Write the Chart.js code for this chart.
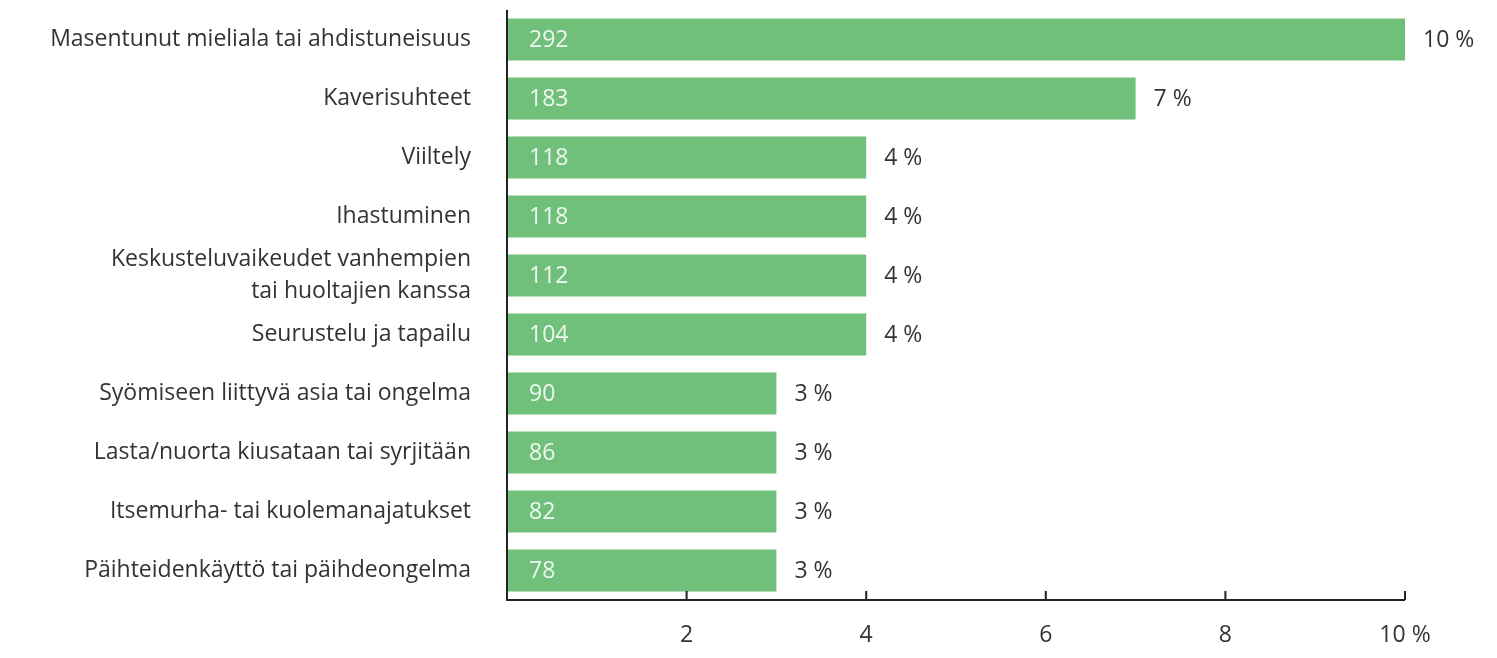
<!DOCTYPE html>
<html>
<head>
<meta charset="utf-8">
<script src="https://cdn.jsdelivr.net/npm/chart.js@4"></script>
<style>
  html, body { margin: 0; padding: 0; background: #fff; }
  #wrap { width: 1497px; height: 658px; position: relative; }
</style>
</head>
<body>
<div id="wrap"><canvas id="myChart"></canvas></div>
<script>
// DATA
const categories = [
  'Masentunut mieliala tai ahdistuneisuus',
  'Kaverisuhteet',
  'Viiltely',
  'Ihastuminen',
  ['Keskusteluvaikeudet vanhempien', 'tai huoltajien kanssa'],
  'Seurustelu ja tapailu',
  'Syömiseen liittyvä asia tai ongelma',
  'Lasta/nuorta kiusataan tai syrjitään',
  'Itsemurha- tai kuolemanajatukset',
  'Päihteidenkäyttö tai päihdeongelma'
];
const counts = [292, 183, 118, 118, 112, 104, 90, 86, 82, 78];
const percents = [10, 7, 4, 4, 4, 4, 3, 3, 3, 3];
const xTicks = [2, 4, 6, 8, 10];

const FONT = 'Open Sans';
const FONT_SIZE = 23;
const barColor = '#70bf7a';
const textColor = '#333333';

// axis lines, inward tick marks and the value labels
const axisAndLabels = {
  id: 'axisAndLabels',
  afterDatasetsDraw(chart) {
    const ctx = chart.ctx;
    const x = chart.scales.x;
    const area = chart.chartArea;
    ctx.save();
    ctx.strokeStyle = '#222';
    ctx.lineWidth = 2;
    ctx.beginPath();
    ctx.moveTo(area.left, area.top);
    ctx.lineTo(area.left, area.bottom);
    ctx.lineTo(area.right, area.bottom);
    xTicks.forEach(v => {
      const px = x.getPixelForValue(v);
      ctx.moveTo(px, area.bottom);
      ctx.lineTo(px, area.bottom - 9);
    });
    ctx.stroke();

    const meta = chart.getDatasetMeta(0);
    ctx.font = FONT_SIZE + 'px "' + FONT + '"';
    ctx.textBaseline = 'middle';
    meta.data.forEach((bar, i) => {
      ctx.textAlign = 'left';
      ctx.fillStyle = '#eef8ee';
      ctx.fillText(counts[i], area.left + 22, bar.y + 1);
      ctx.fillStyle = textColor;
      ctx.fillText(percents[i] + ' %', bar.x + 18, bar.y + 1);
    });
    ctx.restore();
  }
};

const chartLayout = document.getElementById('myChart');
const myChart = new Chart(chartLayout, {
  type: 'bar',
  data: {
    labels: categories,
    datasets: [{
      data: percents,
      backgroundColor: barColor,
      borderWidth: 0,
      categoryPercentage: 0.71,
      barPercentage: 1
    }]
  },
  options: {
    indexAxis: 'y',
    responsive: true,
    maintainAspectRatio: false,
    animation: false,
    layout: { padding: { top: 10, right: 92, left: 0, bottom: 0 } },
    plugins: {
      legend: { display: false },
      tooltip: { enabled: false }
    },
    scales: {
      x: {
        min: 0,
        max: 10,
        border: { display: false },
        grid: { display: false },
        afterFit(scale) {
          scale.height = 58;
          scale.paddingLeft = 0;
          scale.paddingRight = 0;
        },
        afterBuildTicks(scale) {
          scale.ticks = xTicks.map(v => ({ value: v }));
        },
        ticks: {
          color: textColor,
          padding: 14,
          maxRotation: 0,
          autoSkip: false,
          font: { family: FONT, size: FONT_SIZE },
          callback: v => v === 10 ? '10 %' : v
        }
      },
      y: {
        border: { display: false },
        grid: { display: false },
        afterFit(scale) {
          scale.width = 507;
          scale.paddingTop = 0;
          scale.paddingBottom = 0;
        },
        ticks: {
          color: textColor,
          padding: 28,
          autoSkip: false,
          font: { family: FONT, size: FONT_SIZE, lineHeight: 1.4 }
        }
      }
    }
  },
  plugins: [axisAndLabels]
});
</script>
</body>
</html>
